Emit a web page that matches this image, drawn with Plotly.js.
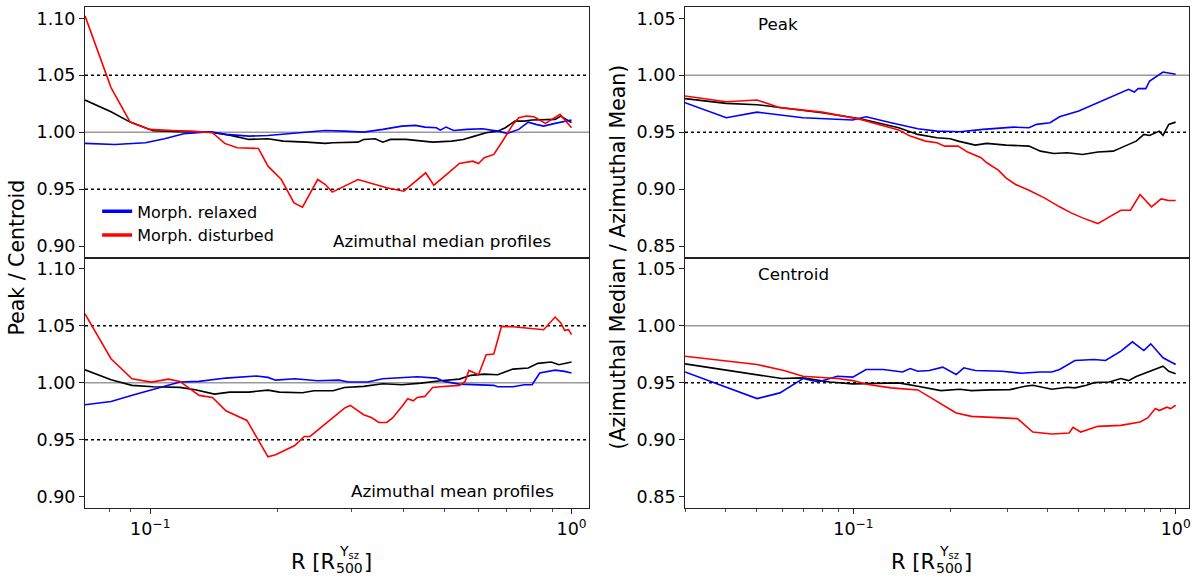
<!DOCTYPE html>
<html>
<head>
<meta charset="utf-8">
<script src="https://cdn.plot.ly/plotly-3.0.1.min.js"></script>
<style>html,body{margin:0;padding:0;background:#fff;}#chart{width:1200px;height:581px;}</style>
</head>
<body>
<div id="chart"></div>
<script>
// ---- Top-left: azimuthal median profiles, Peak / Centroid ----
const medAllR = [0.070,0.0807,0.0896,0.1016,0.1176,0.1390,0.1543,0.1714,0.1903,0.2069,0.2346,0.2604,0.2716,0.3112,0.3210,0.3419,0.3565,0.3717,0.4042,0.4394,0.4679,0.5195,0.5532,0.5889,0.6272,0.6677,0.6964,0.7337,0.7731,0.8060,0.8765,0.9141,0.9431,0.9731,1.0];
const medAllV = [1.0283,1.0180,1.0089,1.0013,1.0004,1.0001,0.9975,0.9937,0.9943,0.9922,0.9913,0.9902,0.9908,0.9913,0.9937,0.9943,0.9913,0.9937,0.9937,0.9922,0.9913,0.9922,0.9937,0.9966,0.9996,1.0010,1.0040,1.0098,1.0098,1.0107,1.0107,1.0113,1.0142,1.0113,1.0084];
const medRelR = [0.070,0.0824,0.0974,0.1081,0.1201,0.1390,0.1512,0.1714,0.1903,0.2113,0.2346,0.2604,0.2891,0.3210,0.3565,0.3957,0.4259,0.4487,0.4778,0.4880,0.5035,0.5250,0.5648,0.6142,0.6677,0.7037,0.7494,0.7892,0.8233,0.8583,0.9141,1.0];
const medRelV = [0.9902,0.9893,0.9908,0.9943,0.9987,1.0004,0.9981,0.9966,0.9972,0.9987,1.0001,1.0016,1.0010,1.0001,1.0025,1.0054,1.0060,1.0045,1.0040,1.0019,1.0045,1.0016,1.0025,1.0031,1.0010,0.9990,1.0025,1.0089,1.0069,1.0054,1.0078,1.0107];
const medDisR = [0.070,0.0807,0.0896,0.0995,0.1128,0.1253,0.1405,0.1502,0.1609,0.1806,0.1903,0.2047,0.2194,0.2298,0.2497,0.2604,0.2704,0.3112,0.3640,0.3999,0.4506,0.4710,0.5087,0.5417,0.5829,0.6015,0.6206,0.6538,0.6820,0.7261,0.7494,0.7810,0.8145,0.8672,0.9391,0.9691,1.0];
const medDisV = [1.1022,1.0392,1.0089,1.0025,1.0016,1.0010,0.9996,0.9902,0.9864,0.9858,0.9702,0.9585,0.9380,0.9342,0.9585,0.9541,0.9474,0.9585,0.9513,0.9482,0.9644,0.9535,0.9638,0.9726,0.9746,0.9726,0.9776,0.9805,0.9908,1.0069,1.0128,1.0142,1.0136,1.0078,1.0157,1.0098,1.0040];

// ---- Bottom-left: azimuthal mean profiles, Peak / Centroid ----
const meanAllR = [0.070,0.0807,0.0905,0.1016,0.1176,0.1279,0.1420,0.1543,0.1714,0.1903,0.2026,0.2298,0.2446,0.2716,0.2891,0.3210,0.3565,0.3957,0.4394,0.4880,0.5417,0.5767,0.6206,0.6677,0.7261,0.7892,0.8318,0.8952,0.9333,0.9630,1.0];
const meanAllV = [1.0114,1.0026,0.9977,0.9965,0.9959,0.9938,0.9900,0.9918,0.9918,0.9935,0.9918,0.9912,0.9930,0.9930,0.9959,0.9968,0.9991,0.9982,0.9997,1.0018,1.0032,1.0065,1.0076,1.0070,1.0120,1.0129,1.0170,1.0182,1.0158,1.0170,1.0182];
const meanRelR = [0.070,0.0807,0.0915,0.1059,0.1176,0.1306,0.1512,0.1787,0.1903,0.1984,0.2203,0.2497,0.2802,0.2953,0.3278,0.3565,0.3957,0.4302,0.4778,0.4982,0.5417,0.6142,0.6538,0.6677,0.7261,0.7731,0.8060,0.8405,0.9141,0.9630,1.0];
const meanRelV = [0.9807,0.9836,0.9895,0.9959,1.0006,1.0012,1.0041,1.0059,1.0047,1.0023,1.0035,1.0018,1.0023,1.0006,1.0006,1.0035,1.0047,1.0053,1.0041,1.0012,0.9988,0.9982,0.9977,0.9965,0.9965,0.9982,0.9982,1.0085,1.0111,1.0100,1.0085];
const meanDisR = [0.070,0.0807,0.0905,0.1005,0.1104,0.1176,0.1306,0.1405,0.1512,0.1696,0.1903,0.1984,0.2203,0.2321,0.2395,0.2660,0.2891,0.2984,0.3210,0.3348,0.3491,0.3640,0.3756,0.3957,0.4084,0.4213,0.4302,0.4487,0.4679,0.4880,0.5417,0.5590,0.5707,0.6015,0.6272,0.6538,0.6820,0.7261,0.8583,0.9141,0.9431,0.9630,0.9833,1.0];
const meanDisV = [1.0604,1.0211,1.0035,1.0006,1.0032,1.0012,0.9889,0.9871,0.9754,0.9669,0.9349,0.9367,0.9449,0.9528,0.9528,0.9669,0.9777,0.9801,0.9719,0.9695,0.9651,0.9651,0.9689,0.9792,0.9859,0.9842,0.9871,0.9880,0.9959,0.9965,0.9977,1.0012,1.0108,1.0070,1.0246,1.0252,1.0495,1.0492,1.0466,1.0577,1.0525,1.0460,1.0466,1.0422];

// ---- Top-right: Peak, median / mean ----
const peakAllR = [0.030,0.0403,0.0502,0.0591,0.0799,0.1051,0.1381,0.1584,0.1816,0.1999,0.2112,0.2388,0.2593,0.2973,0.3318,0.3504,0.3805,0.4186,0.4608,0.5141,0.5735,0.6400,0.6949,0.7543,0.7968,0.8301,0.8890,0.9137,0.9519,1.0];
const peakAllV = [0.9795,0.9754,0.9742,0.9716,0.9672,0.9619,0.9540,0.9481,0.9452,0.9443,0.9422,0.9387,0.9402,0.9387,0.9378,0.9378,0.9334,0.9314,0.9320,0.9305,0.9326,0.9334,0.9378,0.9422,0.9481,0.9472,0.9510,0.9472,0.9569,0.9589];
const peakRelR = [0.030,0.0403,0.0502,0.0697,0.0995,0.1094,0.1308,0.1584,0.1816,0.2141,0.2523,0.2815,0.3141,0.3504,0.3702,0.4074,0.4362,0.5003,0.5580,0.6226,0.7142,0.7441,0.7647,0.8078,0.8301,0.9137,0.9519,1.0];
const peakRelV = [0.9760,0.9628,0.9677,0.9628,0.9607,0.9636,0.9584,0.9531,0.9510,0.9504,0.9525,0.9537,0.9545,0.9540,0.9569,0.9584,0.9636,0.9686,0.9745,0.9804,0.9877,0.9853,0.9883,0.9883,0.9950,1.0029,1.0018,1.0009];
const peakDisR = [0.030,0.0403,0.0502,0.0591,0.0799,0.0916,0.1051,0.1381,0.1500,0.1673,0.1816,0.1919,0.2112,0.2261,0.2489,0.2593,0.2815,0.2973,0.3184,0.3504,0.3911,0.4362,0.4736,0.5141,0.5735,0.6226,0.6761,0.7241,0.7752,0.8415,0.9012,0.9519,1.0];
const peakDisV = [0.9818,0.9768,0.9783,0.9716,0.9677,0.9642,0.9613,0.9519,0.9466,0.9422,0.9408,0.9378,0.9378,0.9326,0.9276,0.9232,0.9167,0.9100,0.9041,0.8991,0.8924,0.8845,0.8792,0.8748,0.8698,0.8757,0.8815,0.8815,0.8953,0.8845,0.8915,0.8900,0.8900];

// ---- Bottom-right: Centroid, median / mean ----
const cenAllR = [0.030,0.0426,0.0599,0.0697,0.0844,0.0995,0.1172,0.1381,0.1584,0.1867,0.2141,0.2324,0.2665,0.3056,0.3410,0.3602,0.4129,0.4362,0.4608,0.4867,0.5284,0.5580,0.6226,0.6761,0.7142,0.7543,0.8078,0.8650,0.9137,0.9519,1.0];
const cenAllV = [0.9666,0.9601,0.9537,0.9543,0.9507,0.9490,0.9496,0.9499,0.9469,0.9431,0.9443,0.9431,0.9437,0.9440,0.9469,0.9478,0.9443,0.9449,0.9461,0.9455,0.9478,0.9501,0.9507,0.9537,0.9519,0.9554,0.9587,0.9616,0.9645,0.9601,0.9578];
const cenRelR = [0.030,0.0502,0.0591,0.0697,0.0777,0.0891,0.0995,0.1094,0.1238,0.1420,0.1500,0.1584,0.1719,0.1892,0.2083,0.2200,0.2388,0.2893,0.3318,0.3805,0.4129,0.4362,0.4867,0.5580,0.6058,0.6761,0.7340,0.7968,0.8369,0.9137,1.0];
const cenRelV = [0.9595,0.9361,0.9411,0.9537,0.9507,0.9557,0.9549,0.9616,0.9616,0.9595,0.9625,0.9601,0.9607,0.9637,0.9572,0.9631,0.9607,0.9601,0.9584,0.9595,0.9595,0.9616,0.9695,0.9704,0.9695,0.9777,0.9859,0.9783,0.9842,0.9719,0.9660];
const cenDisR = [0.030,0.0502,0.0608,0.0697,0.0891,0.0995,0.1110,0.1308,0.1584,0.1816,0.2083,0.2324,0.2815,0.3228,0.3602,0.4129,0.4671,0.4801,0.5071,0.5735,0.6761,0.7752,0.8189,0.8650,0.8890,0.9390,0.9650,1.0];
const cenDisV = [0.9733,0.9660,0.9607,0.9557,0.9537,0.9519,0.9484,0.9455,0.9437,0.9337,0.9235,0.9205,0.9191,0.9185,0.9067,0.9050,0.9059,0.9109,0.9067,0.9117,0.9126,0.9156,0.9191,0.9273,0.9256,0.9285,0.9273,0.9302];

// ---- labels / ticks ----
const legendNames = ['Morph. relaxed', 'Morph. disturbed'];
const panelLabels = ['Azimuthal median profiles', 'Azimuthal mean profiles', 'Peak', 'Centroid'];
const yTitleLeft = 'Peak / Centroid';
const yTitleRight = '(Azimuthal Median / Azimuthal Mean)';
const xTitleParts = ['R [R', '500', 'Y<sub>sz</sub>', ']'];
const xTickVals = [0.1, 1];
const xTickText = ['10<sup>\u22121</sup>', '10<sup>0</sup>'];
const minorLeft = [0.08,0.09,0.2,0.3,0.4,0.5,0.6,0.7,0.8,0.9];
const minorRight = [0.03,0.04,0.05,0.06,0.07,0.08,0.09,0.2,0.3,0.4,0.5,0.6,0.7,0.8,0.9];

const FONT = 'DejaVu Sans';
const BLUE = '#0000ff', RED = '#ff0000', BLACK = '#000000';
const LW = 1.6;

function tr(x, y, color, xa, ya) {
  return {x: x, y: y, type: 'scatter', mode: 'lines', line: {color: color, width: LW},
          xaxis: xa, yaxis: ya, showlegend: false, hoverinfo: 'skip'};
}

const data = [
  tr(medAllR, medAllV, BLACK, 'x2', 'y2'),
  tr(medRelR, medRelV, BLUE, 'x2', 'y2'),
  tr(medDisR, medDisV, RED, 'x2', 'y2'),
  tr(meanAllR, meanAllV, BLACK, 'x', 'y'),
  tr(meanRelR, meanRelV, BLUE, 'x', 'y'),
  tr(meanDisR, meanDisV, RED, 'x', 'y'),
  tr(peakAllR, peakAllV, BLACK, 'x4', 'y4'),
  tr(peakRelR, peakRelV, BLUE, 'x4', 'y4'),
  tr(peakDisR, peakDisV, RED, 'x4', 'y4'),
  tr(cenAllR, cenAllV, BLACK, 'x3', 'y3'),
  tr(cenRelR, cenRelV, BLUE, 'x3', 'y3'),
  tr(cenDisR, cenDisV, RED, 'x3', 'y3'),
  {x: [null], y: [null], type: 'scatter', mode: 'lines', name: legendNames[0],
   line: {color: BLUE, width: 3.5}, xaxis: 'x2', yaxis: 'y2', showlegend: true},
  {x: [null], y: [null], type: 'scatter', mode: 'lines', name: legendNames[1],
   line: {color: RED, width: 3.5}, xaxis: 'x2', yaxis: 'y2', showlegend: true}
];

const AX = '#222222';
const tickFont = {family: FONT, size: 17.5, color: '#000'};
function xax(domain, lo, hi, anchor, showLabels, minor) {
  const a = {domain: domain, type: 'log', range: [Math.log10(lo), Math.log10(hi)], anchor: anchor,
    showline: true, mirror: true, linecolor: AX, linewidth: 1, showgrid: false, zeroline: false,
    tickfont: tickFont};
  if (showLabels) {
    a.tickmode = 'array'; a.tickvals = xTickVals; a.ticktext = xTickText;
    a.ticks = 'outside'; a.ticklen = 5; a.tickwidth = 1; a.tickcolor = AX;
    a.minor = {tickmode: 'array', tickvals: minor, ticks: 'outside', ticklen: 3, tickwidth: 0.8, tickcolor: AX, showgrid: false};
  } else {
    a.showticklabels = false; a.ticks = '';
  }
  return a;
}
function yax(domain, lo, hi, anchor) {
  return {domain: domain, range: [lo, hi], anchor: anchor, showline: true, mirror: true,
    linecolor: AX, linewidth: 1, showgrid: false, zeroline: false,
    tickmode: 'linear', tick0: 0.85, dtick: 0.05, tickformat: '.2f',
    ticks: 'outside', ticklen: 5, tickwidth: 1, tickcolor: AX, tickfont: tickFont};
}

const LD = [0, 0.4565], RD = [0.5435, 1];
function hline(xa, ya, yv, color, dash) {
  return {type: 'line', xref: xa + ' domain', x0: 0, x1: 1, yref: ya, y0: yv, y1: yv,
          line: {color: color, width: 1.5, dash: dash}, layer: 'below'};
}
const shapes = [
  hline('x2','y2',1.0,'#999999','solid'), hline('x2','y2',1.05,'#000','dot'), hline('x2','y2',0.95,'#000','dot'),
  hline('x','y',1.0,'#999999','solid'), hline('x','y',1.05,'#000','dot'), hline('x','y',0.95,'#000','dot'),
  hline('x4','y4',1.0,'#999999','solid'), hline('x4','y4',0.95,'#000','dot'),
  hline('x3','y3',1.0,'#999999','solid'), hline('x3','y3',0.95,'#000','dot')
];

const lab = {family: FONT, size: 16.7, color: '#000'};
const titleFont = {family: FONT, size: 20.5, color: '#000'};
const xtFont = {family: FONT, size: 21, color: '#000'};
const smallFont = {family: FONT, size: 14, color: '#000'};

function note(text, x, y, xanchor, font, extra) {
  const a = {text: text, xref: 'paper', yref: 'paper', x: x, y: y, xanchor: xanchor, yanchor: 'middle',
             showarrow: false, font: font, borderpad: 0};
  return Object.assign(a, extra || {});
}
function xTitle(dx) {
  return [
    note(xTitleParts[0], 0.2274 + dx, -0.1078, 'right', xtFont),
    note(xTitleParts[1], 0.2268 + dx, -0.1195, 'left', smallFont),
    note(xTitleParts[2], 0.2293 + dx, -0.0885, 'left', smallFont),
    note(xTitleParts[3], 0.2520 + dx, -0.1078, 'left', xtFont)
  ];
}

const annotations = [
  note(panelLabels[0], 0.4227, 0.5325, 'right', lab),
  note(panelLabels[1], 0.4257, 0.0345, 'right', lab),
  note(panelLabels[2], 0.6088, 0.9655, 'left', lab),
  note(panelLabels[3], 0.6088, 0.4665, 'left', lab),
  note(yTitleLeft, -0.0625, 0.5, 'center', titleFont, {textangle: -90}),
  note(yTitleRight, 0.4819, 0.5, 'center', titleFont, {textangle: -90})
].concat(xTitle(0), xTitle(0.54348));

const layout = {
  width: 1200, height: 581,
  margin: {l: 85, r: 11, t: 7, b: 73, pad: 0},
  paper_bgcolor: '#ffffff', plot_bgcolor: '#ffffff',
  font: {family: FONT, color: '#000'},
  showlegend: true,
  legend: {x: 0.011, y: 0.626, xanchor: 'left', yanchor: 'top', bgcolor: 'rgba(0,0,0,0)',
           font: {family: FONT, size: 16, color: '#000'}, itemwidth: 30, tracegroupgap: 0},
  xaxis: xax(LD, 0.07, 1.1, 'y', true, minorLeft),
  yaxis: yax([0, 0.5], 0.89, 1.11, 'x'),
  xaxis2: xax(LD, 0.07, 1.1, 'y2', false, minorLeft),
  yaxis2: yax([0.5, 1], 0.89, 1.11, 'x2'),
  xaxis3: xax(RD, 0.03, 1.1, 'y3', true, minorRight),
  yaxis3: yax([0, 0.5], 0.84, 1.06, 'x3'),
  xaxis4: xax(RD, 0.03, 1.1, 'y4', false, minorRight),
  yaxis4: yax([0.5, 1], 0.84, 1.06, 'x4'),
  shapes: shapes,
  annotations: annotations
};

Plotly.newPlot('chart', data, layout, {displayModeBar: false, staticPlot: true});
</script>
</body>
</html>
